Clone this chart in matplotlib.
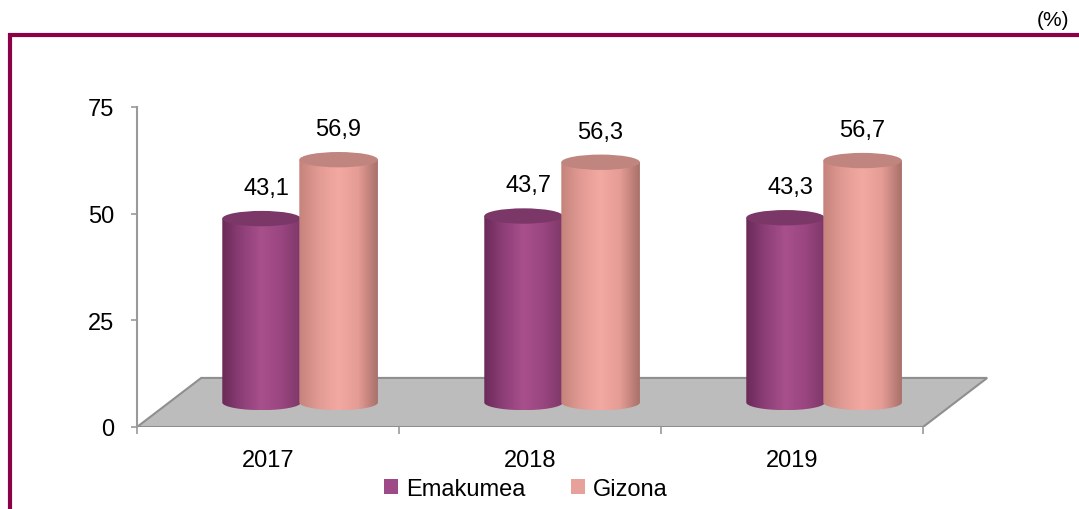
import numpy as np
import matplotlib
matplotlib.use('Agg')
import matplotlib.pyplot as plt
from matplotlib.patches import Polygon, Ellipse, Patch
from matplotlib.colors import LinearSegmentedColormap
from matplotlib.lines import Line2D

years = ['2017', '2018', '2019']
emakumea = [43.1, 43.7, 43.3]
gizona = [56.9, 56.3, 56.7]
series_names = ['Emakumea', 'Gizona']

plt.rcParams['font.family'] = ['Liberation Sans', 'DejaVu Sans']
fs = 17

frame_col = '#8c0045'
grey = '#9a9a9a'

# 3d look: floor depth and bar geometry (in data units)
depth_dx, depth_dy = 0.245, 11.5
bar_w, bar_off = 0.30, 0.147
ell_h = 3.6

cm_ema = LinearSegmentedColormap.from_list('ema', ['#6a2a58', '#8e3f78', '#a8508c', '#9a4680', '#7e3869'])
cm_giz = LinearSegmentedColormap.from_list('giz', ['#c4837b', '#e29b94', '#f2a9a2', '#e59c95', '#a8706a'])

fig = plt.figure(figsize=(10.79, 5.10), dpi=100)
ax = fig.add_axes([137/1079, 82/510, 853/1079, 320/510])

# floor
n = len(years)
floor = Polygon([(-0.5, 0), (n - 0.5, 0), (n - 0.5 + depth_dx, depth_dy), (-0.5 + depth_dx, depth_dy)],
                closed=True, facecolor='#bcbcbc', edgecolor='#8f8f8f', lw=1.5, zorder=1)
ax.add_patch(floor)


def cylinder(xc, base, h, cmap, topcol, z):
    x0, x1 = xc - bar_w/2, xc + bar_w/2
    t = np.linspace(np.pi, 2*np.pi, 80)
    bx = xc + bar_w/2*np.cos(t)
    by = base + ell_h/2*np.sin(t)
    verts = [(x0, base + h)] + list(zip(bx, by)) + [(x1, base + h)]
    body = Polygon(verts, closed=True, facecolor='none', edgecolor='none', zorder=z)
    ax.add_patch(body)
    grad = np.linspace(0, 1, 256).reshape(1, -1)
    im = ax.imshow(grad, cmap=cmap, extent=[x0, x1, base - ell_h/2, base + h],
                   aspect='auto', origin='lower', zorder=z, interpolation='bilinear')
    im.set_clip_path(body)
    top = Ellipse((xc, base + h), bar_w, ell_h, facecolor=topcol, edgecolor='none', zorder=z + 0.1)
    ax.add_patch(top)


base = depth_dy / 2
for i in range(n):
    xc = i + depth_dx / 2
    cylinder(xc - bar_off, base, emakumea[i], cm_ema, '#7a3767', 2)
    cylinder(xc + bar_off, base, gizona[i], cm_giz, '#bf857e', 3)
    ax.text(xc - bar_off + 0.02, base + emakumea[i] + 7.2, f'{emakumea[i]:.1f}'.replace('.', ','),
            ha='center', va='center', fontsize=fs, zorder=5)
    ax.text(xc + bar_off, base + gizona[i] + 7.2, f'{gizona[i]:.1f}'.replace('.', ','),
            ha='center', va='center', fontsize=fs, zorder=5)

ax.set_xlim(-0.5, -0.5 + 853/262)
ax.set_ylim(0, 75)

for s in ['top', 'right', 'bottom']:
    ax.spines[s].set_visible(False)
ax.spines['left'].set_color(grey)
ax.spines['left'].set_linewidth(1.5)
ax.set_yticks([0, 25, 50, 75])
ax.tick_params(axis='y', direction='out', length=4.5, width=1.2, color=grey,
               labelsize=fs, pad=12)
ax.set_xticks([i - 0.5 for i in range(n + 1)])
ax.set_xticklabels([])
ax.tick_params(axis='x', which='major', direction='out', length=5, width=1.2, color=grey)
ax.set_xticks(range(n), minor=True)
ax.set_xticklabels(years, minor=True)
ax.tick_params(axis='x', which='minor', length=0, labelsize=fs, pad=16)

handles = [Patch(facecolor='#9e4a86', edgecolor='none'), Patch(facecolor='#e8a09a', edgecolor='none')]
fig.legend(handles, series_names, loc='center', bbox_to_anchor=(526/1079, 1 - 490/510), ncol=2,
           frameon=False, fontsize=fs, handlelength=0.6, handleheight=0.6,
           handletextpad=0.35, columnspacing=1.9)

# frame lines
fig.add_artist(Line2D([8/1079, 1], [1 - 36/510, 1 - 36/510], color=frame_col, lw=3, solid_capstyle='butt'))
fig.add_artist(Line2D([10/1079, 10/1079], [1 - 34/510, 0], color=frame_col, lw=3, solid_capstyle='butt'))
fig.text(1069/1079, 1 - 21/510, '(%)', ha='right', va='center', fontsize=15)

fig.savefig('out.png', dpi=100)
